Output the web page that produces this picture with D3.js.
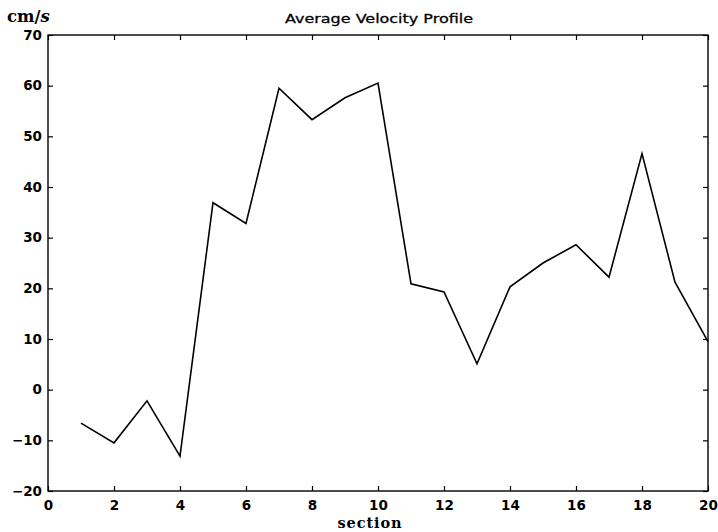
<!DOCTYPE html>
<html>
<head>
<meta charset="utf-8">
<script src="https://cdn.jsdelivr.net/npm/d3@7/dist/d3.min.js"></script>
<style>
  html, body { margin: 0; padding: 0; background: #fff; }
  svg { display: block; }
  .tick text { font-family: "DejaVu Sans", "Liberation Sans", sans-serif; font-weight: bold; font-size: 13.5px; fill: #000; }
</style>
</head>
<body>
<svg id="chart" width="718" height="532"></svg>
<script>
// Average velocity per section (cm/s)
const sections = [1, 2, 3, 4, 5, 6, 7, 8, 9, 10, 11, 12, 13, 14, 15, 16, 17, 18, 19, 20];
const velocity = [-6.6, -10.5, -2.2, -13.1, 36.9, 32.8, 59.5, 53.3, 57.6, 60.5, 20.9, 19.3, 5.1, 20.3, 25.0, 28.6, 22.2, 46.6, 21.2, 9.5];
const xTicks = [0, 2, 4, 6, 8, 10, 12, 14, 16, 18, 20];
const yTicks = [-20, -10, 0, 10, 20, 30, 40, 50, 60, 70];

const margin = { left: 48, right: 10, top: 35, bottom: 41 };
const W = 718, H = 532;
const svg = d3.select("#chart");

const x = d3.scaleLinear().domain([0, 20]).range([margin.left, W - margin.right]);
const y = d3.scaleLinear().domain([-20, 70]).range([H - margin.bottom, margin.top]);

const tickLen = 5;

// bottom and left axes carry labels; ticks point inward
svg.append("g")
  .attr("transform", `translate(0,${y(-20)})`)
  .call(d3.axisBottom(x).tickValues(xTicks).tickSizeInner(-tickLen).tickSizeOuter(0).tickPadding(9))
  .call(g => g.select(".domain").remove());

svg.append("g")
  .attr("transform", `translate(${x(0)},0)`)
  .call(d3.axisLeft(y).tickValues(yTicks).tickFormat(d => d < 0 ? "\u2212" + Math.abs(d) : d)
        .tickSizeInner(-tickLen).tickSizeOuter(0).tickPadding(6))
  .call(g => g.select(".domain").remove());

// top and right mirrored ticks
svg.append("g")
  .attr("transform", `translate(0,${y(70)})`)
  .call(d3.axisTop(x).tickValues(xTicks).tickSizeInner(-tickLen).tickSizeOuter(0).tickFormat(""))
  .call(g => g.select(".domain").remove());

svg.append("g")
  .attr("transform", `translate(${x(20)},0)`)
  .call(d3.axisRight(y).tickValues(yTicks).tickSizeInner(-tickLen).tickSizeOuter(0).tickFormat(""))
  .call(g => g.select(".domain").remove());

svg.selectAll(".tick line").attr("stroke", "#000").attr("stroke-width", 1.2);

// frame
svg.append("rect")
  .attr("x", x(0)).attr("y", y(70))
  .attr("width", x(20) - x(0)).attr("height", y(-20) - y(70))
  .attr("fill", "none").attr("stroke", "#000").attr("stroke-width", 1.4);

// velocity line
const line = d3.line().x((d, i) => x(sections[i])).y(d => y(d));
svg.append("path")
  .datum(velocity)
  .attr("d", line)
  .attr("fill", "none")
  .attr("stroke", "#000")
  .attr("stroke-width", 1.6)
  .attr("stroke-linejoin", "miter");

// title
svg.append("text")
  .attr("x", 379).attr("y", 23)
  .attr("text-anchor", "middle")
  .attr("font-family", "DejaVu Sans, Liberation Sans, sans-serif")
  .attr("font-size", 13)
  .attr("stroke", "#000")
  .attr("stroke-width", 0.3)
  .attr("textLength", 188)
  .attr("lengthAdjust", "spacingAndGlyphs")
  .text("Average Velocity Profile");

// y unit label
const unit = svg.append("text")
  .attr("x", 7).attr("y", 22)
  .attr("font-family", "DejaVu Serif, Liberation Serif, serif")
  .attr("font-weight", "bold")
  .attr("font-size", 16.5);
unit.append("tspan").text("cm/");
unit.append("tspan").attr("font-style", "italic").text("s");

// x axis label
svg.append("text")
  .attr("x", 370).attr("y", 528)
  .attr("text-anchor", "middle")
  .attr("font-family", "DejaVu Serif, Liberation Serif, serif")
  .attr("font-weight", "bold")
  .attr("font-size", 14.5)
  .attr("letter-spacing", 0.9)
  .text("section");
</script>
</body>
</html>
